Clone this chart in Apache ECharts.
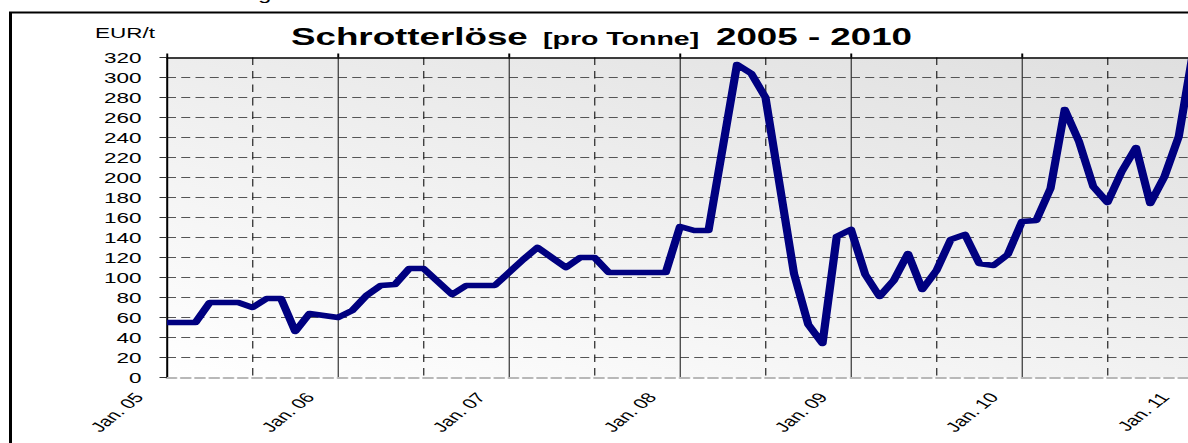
<!DOCTYPE html>
<html>
<head>
<meta charset="utf-8">
<script src="https://cdn.jsdelivr.net/npm/echarts@6/dist/echarts.min.js"></script>
<style>
  html, body { margin: 0; padding: 0; background: #fff; overflow: hidden; }
  #c { width: 792px; height: 443px; transform: scaleX(1.5); transform-origin: 0 0; }
</style>
</head>
<body>
<div id="c"></div>
<script>
// ---- data (monthly, Jan. 05 .. Jan. 11) ----
const yearLabels = ['Jan. 05', 'Jan. 06', 'Jan. 07', 'Jan. 08', 'Jan. 09', 'Jan. 10', 'Jan. 11'];
const monthNames = ['Jan.', 'Feb.', 'Mär.', 'Apr.', 'Mai', 'Jun.', 'Jul.', 'Aug.', 'Sep.', 'Okt.', 'Nov.', 'Dez.'];
const values = [
  55, 55, 55, 75, 75, 75, 70, 79, 79, 46, 64, 62,          // 2005
  60, 67, 82, 92, 93, 109, 109, 96, 83, 92, 92, 92,        // 2006
  105, 118, 130, 120, 110, 120, 120, 105, 105, 105, 105, 105, // 2007
  151, 147, 147, 230, 313, 304, 280, 192, 104, 53, 34, 141,   // 2008
  148, 103, 81, 97, 124, 88, 107, 138, 143, 114, 112, 123,    // 2009
  156, 157, 189, 268, 236, 191, 175, 206, 230, 174, 201, 241, // 2010
  325                                                         // Jan. 11
];
const yTicks = { min: 0, max: 320, interval: 20 };
const unitLabel = 'EUR/t';
const titleParts = ['Schrotterlöse', '[pro Tonne]', '2005 - 2010'];

// categories built from the year labels
const categories = [];
yearLabels.forEach(function (yl, y) {
  const yy = yl.slice(-2);
  if (y < yearLabels.length - 1) {
    monthNames.forEach(function (m, i) { categories.push(i === 0 ? yl : m + ' ' + yy); });
  } else {
    categories.push(yl);
  }
});

const FONT = '"Liberation Sans", Arial, sans-serif';
const chart = echarts.init(document.getElementById('c'), null, { renderer: 'svg' });

chart.setOption({
  backgroundColor: '#ffffff',
  animation: false,
  grid: {
    left: 111.33, top: 57.5, width: 684, height: 320,
    outerBoundsMode: 'none', containLabel: false,
    show: true, borderWidth: 0,
    backgroundColor: {
      type: 'linear', global: true, x: 111.3, y: 377.5, x2: 291.2, y2: -124.2,
      colorStops: [{ offset: 0, color: '#ffffff' }, { offset: 1, color: '#dfdfdf' }]
    }
  },
  xAxis: [
    {
      type: 'category', data: categories, boundaryGap: false, position: 'bottom',
      axisLine: { show: true, lineStyle: { color: '#b8b8b8', width: 2, type: [6, 3.5] } },
      axisTick: { show: false },
      axisLabel: {
        interval: function (i) { return i % 12 === 0; },
        rotate: 50, margin: -5, fontSize: 14, color: '#000', fontFamily: FONT,
        padding: [0, 29, 0, 0], hideOverlap: false
      },
      splitLine: {
        show: true,
        interval: function (i) { return i % 12 === 0; },
        lineStyle: { color: '#333', width: 0.8, type: 'solid' }
      }
    },
    {
      type: 'category', data: categories, boundaryGap: false, position: 'top',
      axisLine: { show: true, lineStyle: { color: '#000', width: 1.5 } },
      axisTick: { show: true, interval: function (i) { return i % 12 === 0; }, length: 4, lineStyle: { color: '#000', width: 1.3 } },
      axisLabel: { show: false },
      splitLine: {
        show: true,
        interval: function (i) { return i % 12 === 6; },
        lineStyle: { color: '#222', width: 0.8, type: [7.5, 6] }
      }
    }
  ],
  yAxis: {
    type: 'value', min: yTicks.min, max: yTicks.max, interval: yTicks.interval,
    axisLine: { show: true, lineStyle: { color: '#000', width: 1.3 } },
    axisTick: { show: true, length: 5, lineStyle: { color: '#333', width: 1 } },
    axisLabel: {
      margin: 17, fontSize: 15, color: '#000', fontFamily: FONT,
      showMaxLabel: true, showMinLabel: true, hideOverlap: false
    },
    splitLine: {
      show: true, showMinLine: false, showMaxLine: false,
      lineStyle: { color: '#555', width: 1, type: [6, 3.5] }
    }
  },
  series: [{
    type: 'line', data: values, xAxisIndex: 0, yAxisIndex: 0,
    showSymbol: false, symbol: 'none', z: 5,
    lineStyle: { color: '#000080', width: 5.5, join: 'round', cap: 'butt' }
  }],
  graphic: [
    { type: 'rect', shape: { x: 7, y: 12.5, width: 2000, height: 1000 }, style: { fill: 'none', stroke: '#000', lineWidth: 2 }, silent: true },
    { type: 'text', x: 172, y: -5, style: { text: 'g', font: '16px ' + FONT, fill: '#000', verticalAlign: 'middle' } },
    { type: 'text', x: 63.3, y: 33, style: { text: unitLabel, font: '15px ' + FONT, fill: '#000', verticalAlign: 'middle' } },
    { type: 'text', x: 194, y: 36.7, style: { text: titleParts[0], font: 'bold 24.5px ' + FONT, fill: '#000', verticalAlign: 'middle' } },
    { type: 'text', x: 362, y: 38.3, style: { text: titleParts[1], font: 'bold 19px ' + FONT, fill: '#000', verticalAlign: 'middle' } },
    { type: 'text', x: 477.3, y: 36.7, style: { text: titleParts[2], font: 'bold 24.5px ' + FONT, fill: '#000', verticalAlign: 'middle' } }
  ]
});
</script>
</body>
</html>
